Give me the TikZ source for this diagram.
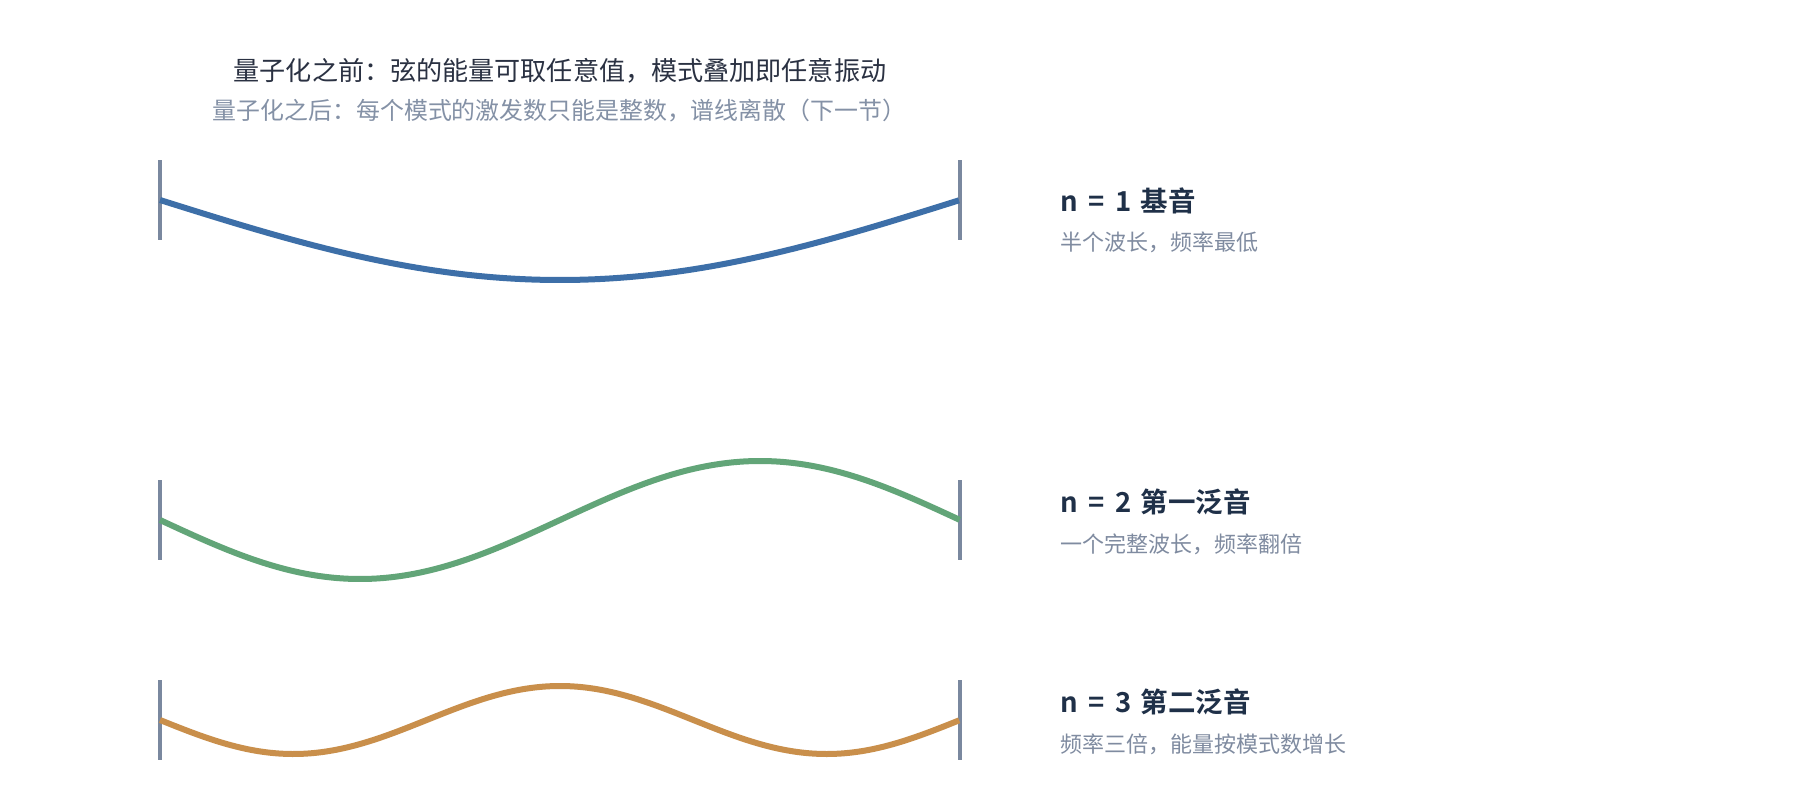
\documentclass[tikz,border=0pt]{standalone}
\usepackage{fontspec}
\setmainfont{Noto Sans CJK SC}
\newfontfamily\cjkbold{Noto Sans CJK SC Bold}
\definecolor{titledark}{HTML}{2A3142}
\definecolor{titlegray}{HTML}{8491A6}
\definecolor{headnavy}{HTML}{1F3048}
\definecolor{subgray}{HTML}{7F8BA0}
\definecolor{barcol}{HTML}{7A889F}
\definecolor{wblue}{HTML}{3D6FA8}
\definecolor{wgreen}{HTML}{62A578}
\definecolor{worange}{HTML}{C98F4B}
\tikzset{
  bar/.style={draw=barcol, line width=4pt},
  wavestroke/.style={line width=6pt, line join=round},
  titleA/.style={text=titledark, inner sep=0pt, font=\fontsize{26.1}{31}\selectfont},
  titleB/.style={text=titlegray, inner sep=0pt, font=\fontsize{23.9}{29}\selectfont},
  head/.style={text=headnavy, inner sep=0pt, anchor=west, font=\cjkbold\fontsize{27.5}{32}\selectfont},
  sub/.style={text=subgray, inner sep=0pt, anchor=west, font=\fontsize{22}{26}\selectfont},
}
\newcommand{\hsp}{\hspace{10.5pt}}
\begin{document}
\begin{tikzpicture}[x=1pt,y=-1pt]
\useasboundingbox[fill=white] (0,0) rectangle (1800,800);
% titles
\node[titleA] (t1) at (560,71) {量子化之前：弦的能量可取任意值，模式叠加即任意振动};
\node[titleB] (t2) at (559.5,111) {量子化之后：每个模式的激发数只能是整数，谱线离散（下一节）};
% bars
\foreach \c/\nm in {200/a,520/b,720/c}{
  \draw[bar] (160,\c-40) coordinate (L\nm top) -- (160,\c+40) coordinate (L\nm bot);
  \draw[bar] (960,\c-40) coordinate (R\nm top) -- (960,\c+40) coordinate (R\nm bot);
}
% waves
\draw[wavestroke, draw=wblue] plot[domain=0:1, samples=120, smooth] ({160+800*\x}, {200+80*sin(180*\x)});
\draw[wavestroke, draw=wgreen] plot[domain=0:1, samples=160, smooth] ({160+800*\x}, {520+59*sin(360*\x)});
\draw[wavestroke, draw=worange] plot[domain=0:1, samples=200, smooth] ({160+800*\x}, {720+34*sin(540*\x)});
% labels
\node[head] (h1) at (1060,201) {n\hsp=\hsp1\hspace{3pt} 基音};
\node[sub] (s1) at (1060,242.5) {半个波长，频率最低};
\node[head] (h2) at (1060,501.5) {n\hsp=\hsp2\hspace{3pt} 第一泛音};
\node[sub] (s2) at (1060,544) {一个完整波长，频率翻倍};
\node[head] (h3) at (1060,701.5) {n\hsp=\hsp3\hspace{3pt} 第二泛音};
\node[sub] (s3) at (1060,744) {频率三倍，能量按模式数增长};
\end{tikzpicture}
\end{document}
